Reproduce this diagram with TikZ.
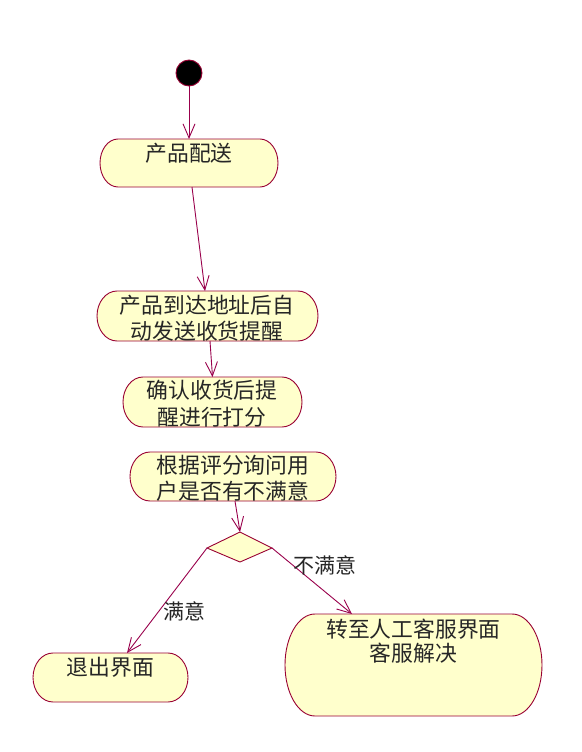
\documentclass[tikz,border=0pt]{standalone}
\usepackage{fontspec}
\newfontfamily\cjk{Noto Sans CJK SC}
\usetikzlibrary{arrows.meta,calc}
\definecolor{bordc}{RGB}{153,0,51}
\definecolor{arrc}{RGB}{153,0,76}
\definecolor{fillc}{RGB}{255,255,204}
\newcommand\actshape[3]{%
  \draw[actline] ([xshift=#2pt]#1.north west) -- ([xshift=-#2pt]#1.north east)
    arc[start angle=90,end angle=-90,x radius=#2pt,y radius=#3pt]
    -- ([xshift=#2pt]#1.south west)
    arc[start angle=270,end angle=90,x radius=#2pt,y radius=#3pt] -- cycle;}
\tikzset{
  box/.style={draw=none,inner sep=0pt,outer sep=0pt,rectangle},
  actline/.style={draw=bordc,fill=fillc,line width=0.9pt},
  txt/.style={font=\cjk\fontsize{21.8}{26.5}\selectfont,align=center,inner sep=0pt,text=black!85},
  lbl/.style={font=\cjk\fontsize{21}{24}\selectfont,inner sep=0pt,text=black!85},
  flow/.style={draw=arrc,line width=0.9pt,-{Straight Barb[length=14pt,width=12pt,line width=0.9pt]}},
}
\begin{document}
\begin{tikzpicture}[x=1pt,y=1pt]
\useasboundingbox[fill=white] (0,0) rectangle (581,-752);
% start
\node[circle,fill=black,draw=bordc,line width=0.9pt,minimum size=26pt,inner sep=0pt] (start) at (189,-73) {};
% action boxes
\node[box,minimum width=178pt,minimum height=48pt] (n1) at (189,-163) {};
\actshape{n1}{18}{24}
\node[txt] (n1t) at (189,-153) {产品配送};
\node[box,minimum width=221pt,minimum height=50pt] (n2) at (207.5,-316) {};
\actshape{n2}{20}{25}
\node[txt] (n2t) at (207,-318) {产品到达地址后自\\动发送收货提醒};
\node[box,minimum width=179pt,minimum height=50pt] (n3) at (212.5,-402) {};
\actshape{n3}{20}{25}
\node[txt] (n3t) at (212,-403.5) {确认收货后提\\醒进行打分};
\node[box,minimum width=206pt,minimum height=49pt] (n4) at (233,-476.5) {};
\actshape{n4}{20}{24.5}
\node[txt] (n4t) at (233,-478.5) {根据评分询问用\\户是否有不满意};
\node[box,minimum width=155pt,minimum height=49pt] (n5) at (110.5,-677.5) {};
\actshape{n5}{20}{24.5}
\node[txt] (n5t) at (110.5,-667) {退出界面};
\node[box,minimum width=257pt,minimum height=102pt] (n6) at (413.5,-665) {};
\actshape{n6}{30}{51}
\node[txt,font=\cjk\fontsize{21.8}{24.5}\selectfont] (n6t) at (413.5,-641) {转至人工客服界面\\客服解决};
% decision
\coordinate (dt) at (240,-532);
\coordinate (dl) at (207,-548);
\coordinate (dr) at (272,-548);
\coordinate (db) at (240,-562);
\draw[actline] (dt) -- (dr) -- (db) -- (dl) -- cycle;
% connectors
\draw[flow] (start.south) -- (n1.north);
\draw[flow] ([xshift=3pt]n1.south) -- ([xshift=-2.5pt]n2.north);
\draw[flow] ([xshift=2.5pt]n2.south) -- (n3.north);
\draw[flow] ([xshift=2pt]n4.south) -- (dt);
\draw[flow] (dl) -- ([xshift=16.5pt]n5.north);
\draw[flow] (dr) -- ([xshift=-61.5pt]n6.north);
% labels
\node[lbl] (l1) at (184,-611) {满意};
\node[lbl] (l2) at (325,-565) {不满意};
\end{tikzpicture}
\end{document}
